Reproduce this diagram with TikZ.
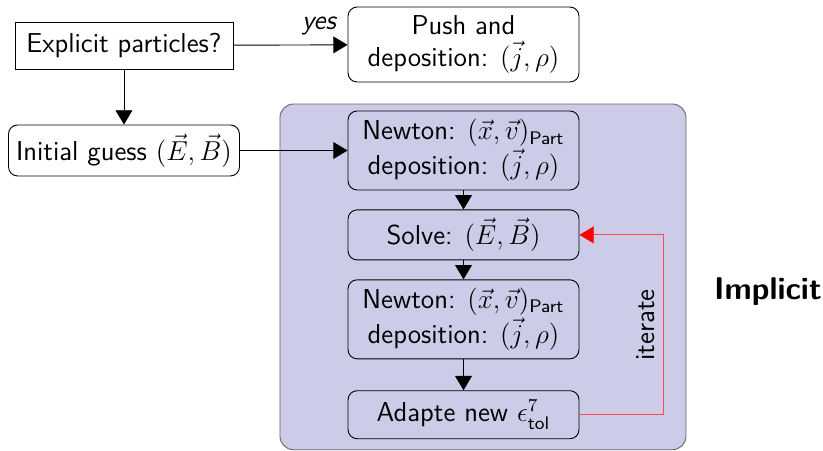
\documentclass[tikz,border=0pt]{standalone}
\usepackage{amsmath,amssymb}
\usepackage{xcolor}
\usepackage{tikz}
\usetikzlibrary{shapes,arrows.meta,positioning}

\definecolor{implfill}{RGB}{204,204,233}

\begin{document}
\begin{tikzpicture}[
    font=\sffamily\large,
    node distance=0.293cm,
    box/.style={rectangle, draw, rounded corners=4pt, minimum width=3.564cm, align=center, inner sep=2pt},
    question/.style={rectangle, draw, minimum width=3.364cm, minimum height=0.725cm, align=center},
    conn/.style={-{Triangle[length=0.22cm,width=0.26cm]}},
    loopback/.style={-{Triangle[length=0.22cm,width=0.26cm,color=red]}, draw=red!70}
]
    \useasboundingbox (0,0) rectangle (12.699,-6.959);

    % implicit block
    \draw[rounded corners=6pt, draw=black!60, fill=implfill] (4.320,-1.605) rectangle (10.585,-6.94);

    \node[question] (expl) at (1.913,-0.702) {Explicit particles?};
    \node[box, minimum height=1.157cm] (push) at (7.152,-0.687) {Push and\\deposition: $(\vec{j},\rho)$};
    \node[box, minimum height=0.787cm] (guess) at (1.913,-2.322) {Initial guess $(\vec{E},\vec{B})$};

    \node[box, minimum height=1.219cm] (newt1) at (7.152,-2.322) {Newton: $(\vec{x},\vec{v})_{\text{Part}}$\\deposition: $(\vec{j},\rho)$};
    \node[box, minimum height=0.772cm, below=of newt1] (solve) {Solve: $(\vec{E},\vec{B})$};
    \node[box, minimum height=1.219cm, below=of solve] (newt2) {Newton: $(\vec{x},\vec{v})_{\text{Part}}$\\deposition: $(\vec{j},\rho)$};
    \node[box, minimum height=0.741cm, below=0.478cm of newt2] (adapt) {Adapte new $\epsilon^{7}_{\text{tol}}$};

    \node[font=\sffamily\bfseries\fontsize{13.8}{16}\selectfont] (impl) at (11.850,-4.506) {Implicit};

    \draw[conn] (expl) -- (push) node[pos=0.75, above=1pt, font=\sffamily\itshape\large] {yes};
    \draw[conn] (expl) -- (guess);
    \draw[conn] (guess) -- (newt1);
    \draw[conn] (newt1) -- (solve);
    \draw[conn] (solve) -- (newt2);
    \draw[conn] (newt2) -- (adapt);

    \coordinate (turn) at (10.230,-6.357);
    \draw[loopback] (adapt.east) -| (turn |- solve.east)
        node[pos=0.75, above, rotate=90, text=black] {iterate} -- (solve.east);
\end{tikzpicture}
\end{document}
